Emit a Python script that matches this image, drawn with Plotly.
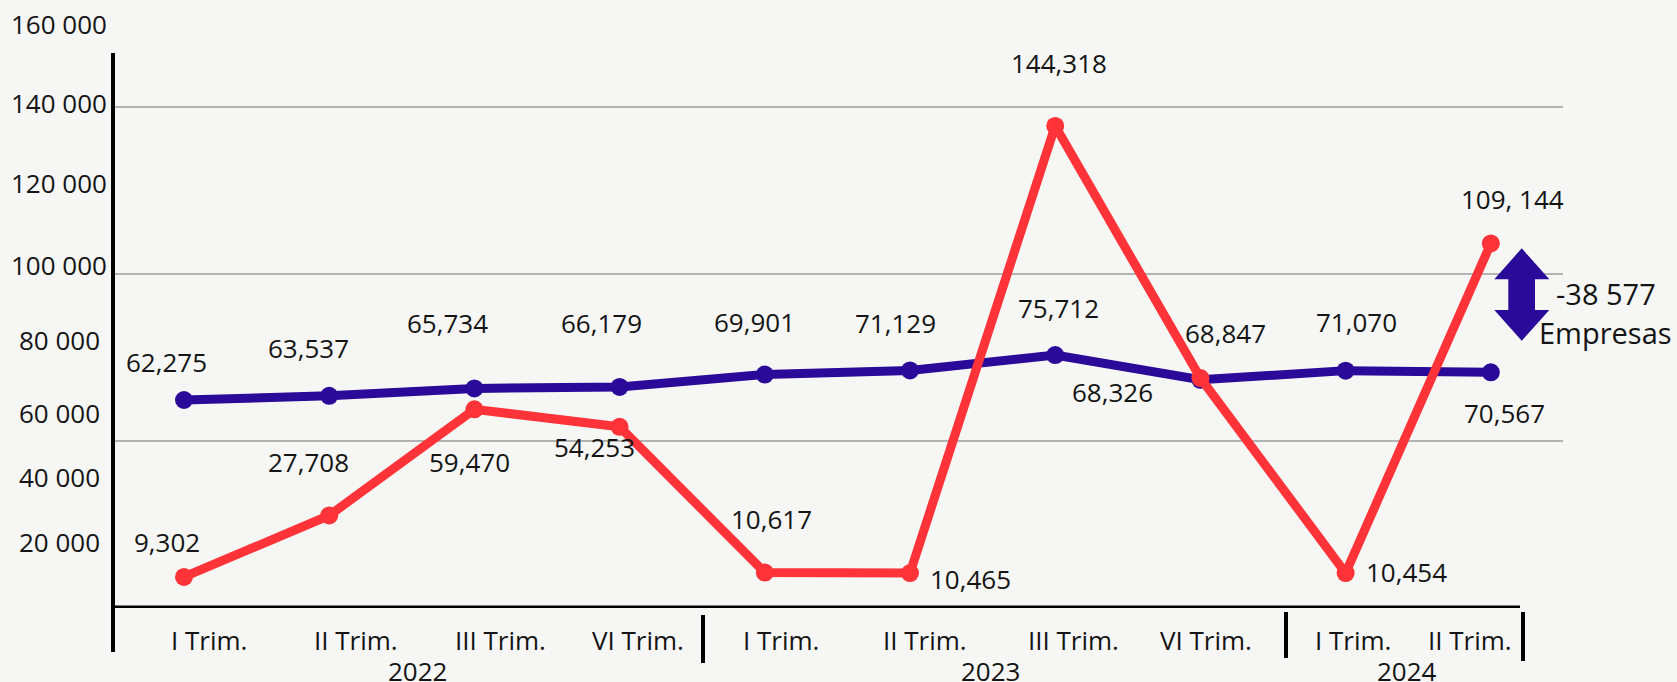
import plotly.graph_objects as go

# ---------------- data ----------------
quarters = ["I Trim.", "II Trim.", "III Trim.", "VI Trim.",
            "I Trim.", "II Trim.", "III Trim.", "VI Trim.",
            "I Trim.", "II Trim."]
years = ["2022", "2023", "2024"]
year_members = [[0, 1, 2, 3], [4, 5, 6, 7], [8, 9]]

purple_values = [62275, 63537, 65734, 66179, 69901, 71129, 75712, 68326, 71070, 70567]
purple_labels = ["62,275", "63,537", "65,734", "66,179", "69,901",
                 "71,129", "75,712", "68,326", "71,070", "70,567"]

red_values = [9302, 27708, 59470, 54253, 10617, 10465, 144318, 68847, 10454, 109144]
red_labels = ["9,302", "27,708", "59,470", "54,253", "10,617",
              "10,465", "144,318", "68,847", "10,454", "109, 144"]

y_axis_labels = ["160 000", "140 000", "120 000", "100 000",
                 "80 000", "60 000", "40 000", "20 000"]
grid_values = [0, 50000, 100000, 150000]

diff_text = "-38 577"
diff_unit = "Empresas"

# ---------------- styles / layout helpers ----------------
W, H = 1677, 682
ML, MR, MT, MB = 113, 114, 10, 74
PW, PH = W - ML - MR, H - MT - MB
Y_MAX = 179042
X_RANGE = [-0.489, 9.497]

PURPLE = "#2a0a99"
RED = "#ff3338"
TXT = "#141414"
BG = "#f6f7f5"
FONT = "Open Sans"
FS = 26

def px2x(p):
    return (p - ML) / PW

def px2y(p):
    return (H - MB - p) / PH

# label offsets (pixels, dx right, dy down)
purple_off = [(-18, -38), (-21, -48), (-27, -65), (-18, -64), (-10, -53),
              (-15, -47), (3, -47), (-88, 12), (11, -49), (14, 41)]
red_off = [(-17, -35), (-21, -53), (-5, 53), (-25, 20), (7, -54),
           (60, 6), (4, -63), (25, -45), (61, -1), (22, -44)]
quarter_shift = [25, 27, 26, 18, 16, 15, 18, 6, 7, -21]
year_shift = [16, 8, -11]
y_label_px = [24, 103, 183, 265, 340, 413, 477, 542]

x = list(range(len(quarters)))

fig = go.Figure()
fig.add_trace(go.Scatter(x=x, y=purple_values, mode="lines+markers",
                         line=dict(color=PURPLE, width=9),
                         marker=dict(color=PURPLE, size=18),
                         hoverinfo="skip", showlegend=False))
fig.add_trace(go.Scatter(x=x, y=red_values, mode="lines+markers",
                         line=dict(color=RED, width=9),
                         marker=dict(color=RED, size=18),
                         hoverinfo="skip", showlegend=False))

ann = []
for i, (v, t) in enumerate(zip(purple_values, purple_labels)):
    dx, dy = purple_off[i]
    ann.append(dict(x=i, y=v, text=t, showarrow=False, xshift=dx, yshift=-dy,
                    font=dict(size=FS, color=TXT, family=FONT)))
for i, (v, t) in enumerate(zip(red_values, red_labels)):
    dx, dy = red_off[i]
    ann.append(dict(x=i, y=v, text=t, showarrow=False, xshift=dx, yshift=-dy,
                    font=dict(size=FS, color=TXT, family=FONT)))
for i, q in enumerate(quarters):
    ann.append(dict(x=i, xref="x", y=px2y(640), yref="paper", text=q,
                    showarrow=False, xshift=quarter_shift[i], yanchor="middle",
                    font=dict(size=FS, color=TXT, family=FONT)))
for k, yr in enumerate(years):
    mid = sum(year_members[k]) / len(year_members[k])
    ann.append(dict(x=mid, xref="x", y=px2y(671), yref="paper", text=yr,
                    showarrow=False, xshift=year_shift[k], yanchor="middle",
                    font=dict(size=FS, color=TXT, family=FONT)))
for lab, p in zip(y_axis_labels, y_label_px):
    ann.append(dict(x=px2x(59), xref="paper", y=px2y(p), yref="paper", text=lab,
                    showarrow=False, xanchor="center", yanchor="middle",
                    font=dict(size=FS, color=TXT, family=FONT)))
ann.append(dict(x=px2x(1606), xref="paper", y=px2y(293), yref="paper", text=diff_text,
                showarrow=False, xanchor="center", yanchor="middle",
                font=dict(size=29, color=TXT, family=FONT)))
ann.append(dict(x=px2x(1606), xref="paper", y=px2y(332), yref="paper", text=diff_unit,
                showarrow=False, xanchor="center", yanchor="middle",
                font=dict(size=29, color=TXT, family=FONT)))

shapes = []
# black x axis line
shapes.append(dict(type="line", xref="paper", yref="y", x0=px2x(112), x1=px2x(1520),
                   y0=0, y1=0, line=dict(color="black", width=5), layer="above"))
# y axis line
shapes.append(dict(type="line", xref="paper", yref="paper", x0=0, x1=0,
                   y0=px2y(53), y1=px2y(652), line=dict(color="black", width=4)))
# group dividers
for xp, y0p, y1p in [(703, 615, 663), (1286, 612, 658), (1523, 612, 661)]:
    shapes.append(dict(type="line", xref="paper", yref="paper", x0=px2x(xp), x1=px2x(xp),
                       y0=px2y(y0p), y1=px2y(y1p), line=dict(color="black", width=4)))
# double arrow
cx = 1521.7
pts = [(cx, 248.3), (1549.3, 279.3), (1535, 279.3), (1535, 310), (1549.3, 310),
       (cx, 340.7), (1494.3, 310), (1508.3, 310), (1508.3, 279.3), (1494.3, 279.3)]
path = "M " + " L ".join(f"{px2x(a):.5f},{px2y(b):.5f}" for a, b in pts) + " Z"
shapes.append(dict(type="path", xref="paper", yref="paper", path=path,
                   fillcolor=PURPLE, line=dict(color=PURPLE, width=0)))

fig.update_layout(
    width=W, height=H,
    margin=dict(l=ML, r=MR, t=MT, b=MB),
    paper_bgcolor=BG, plot_bgcolor=BG,
    xaxis=dict(range=X_RANGE, showticklabels=False, showgrid=False,
               zeroline=False, showline=False, ticks=""),
    yaxis=dict(range=[0, Y_MAX], tickvals=grid_values, showticklabels=False,
               showgrid=True, gridcolor="#b3b3b3", gridwidth=1.5,
               zeroline=False, showline=False, ticks=""),
    annotations=ann, shapes=shapes,
    font=dict(family=FONT, color=TXT),
)

fig.write_html("out.html", config={"displayModeBar": False},
               post_script="document.body.style.margin='0';document.body.style.background='%s';" % BG)
